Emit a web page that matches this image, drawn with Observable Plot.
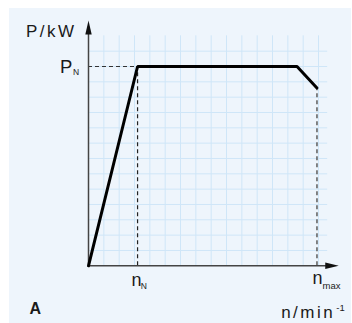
<!DOCTYPE html>
<html>
<head>
<meta charset="utf-8">
<script src="https://cdn.jsdelivr.net/npm/d3@7"></script>
<script src="https://cdn.jsdelivr.net/npm/@observablehq/plot@0.6"></script>
<style>
  html, body { margin: 0; padding: 0; background: #ffffff; }
  #wrap { position: relative; width: 352px; height: 323px; }
  #panel { position: absolute; left: 9px; top: 8px; width: 342px; height: 315px; background: #eef5fc; }
  #chart { position: absolute; left: 0; top: 0; width: 352px; }
</style>
</head>
<body>
<div id="wrap"><div id="panel"></div><div id="chart"></div></div>
<script>
// Characteristic: speed n (grid units) vs power P (grid units)
const curveN = [0, 3.2, 13.6, 14.9];
const curveP = [0, 13, 13, 11.6];
const nN = 3.2, PN = 13, nMax = 14.9, PAtMax = 11.6;
const gridX = [1,2,3,4,5,6,7,8,9,10,11,12,13,14,15];
const gridY = [1,2,3,4,5,6,7,8,9,10,11,12,13,14];
const gridTop = 15, gridRight = 15.6;
const axisEndX = 16.32, axisEndY = 16.0;

const curve = curveN.map((n, i) => ({n, p: curveP[i]}));

const FONT = "Liberation Sans, Arial, sans-serif";
const TXT = "#1a1a1a";
const AX = "#444444";

// filled arrowhead symbols (centred on their own middle)
const headUp = {
  draw(context) {
    context.moveTo(0, -7);
    context.lineTo(-3.2, 7);
    context.lineTo(3.2, 7);
    context.closePath();
  }
};
const headRight = {
  draw(context) {
    context.moveTo(6.75, 0);
    context.lineTo(-6.75, -3.2);
    context.lineTo(-6.75, 3.2);
    context.closePath();
  }
};

const plot = Plot.plot({
  width: 352,
  height: 323,
  marginLeft: 88,
  marginRight: 352 - (88 + 16 * 15.333),
  marginTop: 20,
  marginBottom: 323 - 265.3,
  x: {domain: [0, 16], axis: null},
  y: {domain: [0, 16], axis: null},
  style: {background: "transparent", overflow: "visible", fontFamily: FONT},
  marks: [
    // grid
    Plot.ruleX(gridX, {y1: 0, y2: gridTop, stroke: "#cfe6f8", strokeWidth: 1}),
    Plot.ruleY(gridY, {x1: 0, x2: gridRight, stroke: "#cfe6f8", strokeWidth: 1}),
    // dashed guides
    Plot.ruleY([PN], {x1: 0, x2: nN, stroke: "#333", strokeWidth: 1.2, strokeDasharray: "4,3"}),
    Plot.ruleX([nN], {y1: 0, y2: PN, stroke: "#222", strokeWidth: 1.2, strokeDasharray: "4,3"}),
    Plot.ruleX([nMax], {y1: 0, y2: PAtMax, stroke: "#666", strokeWidth: 1.6, strokeDasharray: "4,3"}),
    // axes
    Plot.ruleY([0], {x1: 0, x2: axisEndX - 0.8, stroke: AX, strokeWidth: 1.5}),
    Plot.ruleX([0], {y1: 0, y2: axisEndY - 0.8, stroke: AX, strokeWidth: 1.5}),
    Plot.dot([0], {x: 0, y: axisEndY, dy: 7, symbol: headUp, fill: "#111", stroke: "none"}),
    Plot.dot([0], {x: axisEndX, y: 0, dx: -6.75, symbol: headRight, fill: "#111", stroke: "none"}),
    // curve
    Plot.line(curve, {x: "n", y: "p", stroke: "#000", strokeWidth: 3, strokeLinejoin: "miter"}),
    // labels
    Plot.text(["P/kW"], {x: 0, y: axisEndY, text: d => d, textAnchor: "end", lineAnchor: "bottom", dx: -12, dy: 16.7, fontSize: 17, fill: TXT}),
    Plot.text(["P"], {x: 0, y: PN, text: d => d, textAnchor: "start", lineAnchor: "bottom", dx: -28.5, dy: 6.3, fontSize: 18.5, fill: TXT}),
    Plot.text(["N"], {x: 0, y: PN, text: d => d, textAnchor: "start", lineAnchor: "bottom", dx: -15.5, dy: 8.8, fontSize: 8.5, fill: TXT}),
    Plot.text(["n"], {x: nN, y: 0, text: d => d, textAnchor: "start", lineAnchor: "bottom", dx: -6, dy: 20.4, fontSize: 18, fill: TXT}),
    Plot.text(["N"], {x: nN, y: 0, text: d => d, textAnchor: "start", lineAnchor: "bottom", dx: 3.2, dy: 23.4, fontSize: 8.5, fill: TXT}),
    Plot.text(["n"], {x: nMax, y: 0, text: d => d, textAnchor: "start", lineAnchor: "bottom", dx: -4.5, dy: 18, fontSize: 18, fill: TXT}),
    Plot.text(["max"], {x: nMax, y: 0, text: d => d, textAnchor: "start", lineAnchor: "bottom", dx: 5.5, dy: 23.5, fontSize: 9.5, fill: TXT}),
    Plot.text(["n/min"], {x: axisEndX, y: 0, text: d => d, textAnchor: "end", lineAnchor: "bottom", dx: -3.5, dy: 52, fontSize: 17, fill: TXT}),
    Plot.text(["-1"], {x: axisEndX, y: 0, text: d => d, textAnchor: "start", lineAnchor: "bottom", dx: -2.5, dy: 45, fontSize: 9.5, fill: TXT}),
    Plot.text(["A"], {x: 0, y: 0, text: d => d, textAnchor: "start", lineAnchor: "bottom", dx: -59, dy: 48, fontSize: 16, fontWeight: "bold", fill: TXT})
  ]
});
// widen the two axis titles a little, like the reference lettering
d3.select(plot).selectAll("text").filter(function() {
  const t = this.textContent;
  return t === "P/kW" || t === "n/min";
}).style("letter-spacing", "2.5px");
document.getElementById("chart").appendChild(plot);
</script>
</body>
</html>
